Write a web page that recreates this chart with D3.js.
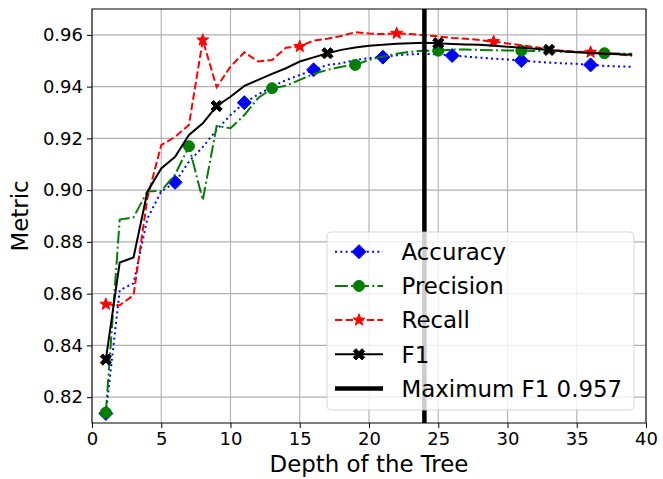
<!DOCTYPE html>
<html>
<head>
<meta charset="utf-8">
<script src="https://cdn.jsdelivr.net/npm/d3@7"></script>
<style>
  body { margin: 0; background: #fff; }
  svg { display: block; font-family: "DejaVu Sans", sans-serif; }
</style>
</head>
<body>
<svg id="svg" width="663" height="479"></svg>
<script>
// data: tree depth 1..39
const depths = d3.range(1, 40);
const accuracy = [0.8137, 0.8613, 0.8640, 0.8890, 0.8995, 0.9030, 0.9110, 0.9167, 0.9233, 0.9290,
  0.9338, 0.9370, 0.9400, 0.9425, 0.9445, 0.9465, 0.9484, 0.9490, 0.9503, 0.9510,
  0.9514, 0.9521, 0.9525, 0.9527, 0.9525, 0.9520, 0.9516, 0.9512, 0.9508, 0.9505,
  0.9501, 0.9496, 0.9493, 0.9490, 0.9488, 0.9484, 0.9480, 0.9478, 0.9477];
const precision = [0.8140, 0.8886, 0.8895, 0.8995, 0.8997, 0.9060, 0.9170, 0.8961, 0.9248, 0.9239,
  0.9290, 0.9356, 0.9394, 0.9403, 0.9426, 0.9449, 0.9465, 0.9477, 0.9484, 0.9503,
  0.9516, 0.9527, 0.9535, 0.9539, 0.9539, 0.9543, 0.9543, 0.9542, 0.9541, 0.9540,
  0.9539, 0.9538, 0.9536, 0.9535, 0.9533, 0.9531, 0.9529, 0.9528, 0.9527];
const recall = [0.8559, 0.8555, 0.8594, 0.8970, 0.9174, 0.9206, 0.9252, 0.9580, 0.9398, 0.9477,
  0.9533, 0.9497, 0.9503, 0.9550, 0.9555, 0.9578, 0.9585, 0.9596, 0.9610, 0.9605,
  0.9603, 0.9606, 0.9603, 0.9599, 0.9594, 0.9588, 0.9585, 0.9580, 0.9574, 0.9567,
  0.9560, 0.9553, 0.9543, 0.9539, 0.9535, 0.9533, 0.9530, 0.9525, 0.9519];
const f1 = [0.8345, 0.8720, 0.8740, 0.8994, 0.9084, 0.9129, 0.9213, 0.9258, 0.9325, 0.9361,
  0.9403, 0.9426, 0.9449, 0.9471, 0.9497, 0.9513, 0.9529, 0.9542, 0.9551, 0.9558,
  0.9562, 0.9566, 0.9568, 0.9570, 0.9568, 0.9565, 0.9563, 0.9562, 0.9558, 0.9554,
  0.9550, 0.9546, 0.9542, 0.9537, 0.9533, 0.9530, 0.9527, 0.9525, 0.9523];
const bestDepth = 24;
const bestF1 = 0.957;
const xTicks = [0, 5, 10, 15, 20, 25, 30, 35, 40];
const yTicks = [0.82, 0.84, 0.86, 0.88, 0.90, 0.92, 0.94, 0.96];

const series = [
  {name: 'Accuracy', values: accuracy, color: 'blue', dash: '2,3.3', marker: 'diamond', every: 5},
  {name: 'Precision', values: precision, color: 'green', dash: '12.8,3.2,2,3.2', marker: 'circle', every: 6},
  {name: 'Recall', values: recall, color: 'red', dash: '7.4,3.2', marker: 'star', every: 7},
  {name: 'F1', values: f1, color: 'black', dash: null, marker: 'xfill', every: 8}
];

const svg = d3.select('#svg');
const mLeft = 92, mRight = 646, mTop = 9, mBottom = 423;

const x = d3.scaleLinear().domain([0, 40]).range([mLeft, mRight]);
const y = d3.scaleLinear().domain([0.81, 0.97]).range([mBottom, mTop]);

// marker shapes
let markerPath = (type) => {
  if (type === 'diamond') return 'M0,-7L7,0L0,7L-7,0Z';
  if (type === 'star') {
    const pts = d3.range(10).map(k => {
      const r = k % 2 ? 2.6 : 6.3;
      const ang = -Math.PI / 2 + k * Math.PI / 5;
      return [r * Math.cos(ang), r * Math.sin(ang)];
    });
    return 'M' + pts.join('L') + 'Z';
  }
  if (type === 'xfill') {
    const a = 2.6, b = 5.6;
    return `M${-b},${-b + a}L${-b + a},${-b}L0,${-a}L${b - a},${-b}L${b},${-b + a}L${a},0` +
      `L${b},${b - a}L${b - a},${b}L0,${a}L${-b + a},${b}L${-b},${b - a}L${-a},0Z`;
  }
  return d3.symbol(d3.symbolCircle, 95)();
};

// grid
svg.append('g').selectAll('line').data(xTicks).enter().append('line')
  .attr('x1', d => x(d)).attr('x2', d => x(d)).attr('y1', mTop).attr('y2', mBottom)
  .attr('stroke', '#b0b0b0').attr('stroke-width', 1.1);
svg.append('g').selectAll('line').data(yTicks).enter().append('line')
  .attr('y1', d => y(d)).attr('y2', d => y(d)).attr('x1', mLeft).attr('x2', mRight)
  .attr('stroke', '#b0b0b0').attr('stroke-width', 1.1);

svg.append('clipPath').attr('id', 'clip').append('rect')
  .attr('x', mLeft).attr('y', mTop).attr('width', mRight - mLeft).attr('height', mBottom - mTop);

const plot = svg.append('g').attr('clip-path', 'url(#clip)');
const line = d3.line().x((d, i) => x(depths[i])).y(d => y(d));

series.forEach(s => {
  plot.append('path').datum(s.values)
    .attr('d', line).attr('fill', 'none')
    .attr('stroke', s.color).attr('stroke-width', 2)
    .attr('stroke-dasharray', s.dash);
  plot.selectAll(null).data(s.values.map((v, i) => [depths[i], v]).filter((d, i) => i % s.every === 0))
    .enter().append('path')
    .attr('d', markerPath(s.marker))
    .attr('transform', d => `translate(${x(d[0])},${y(d[1])})`)
    .attr('fill', s.color).attr('stroke', s.color).attr('stroke-width', 1);
});

plot.append('line')
  .attr('x1', x(bestDepth)).attr('x2', x(bestDepth)).attr('y1', mTop).attr('y2', mBottom)
  .attr('stroke', 'black').attr('stroke-width', 4.5);

// axes
const xAxis = svg.append('g').attr('transform', `translate(0,${mBottom})`)
  .call(d3.axisBottom(x).tickValues(xTicks).tickSize(5).tickPadding(4).tickFormat(d3.format('d')));
const yAxis = svg.append('g').attr('transform', `translate(${mLeft},0)`)
  .call(d3.axisLeft(y).tickValues(yTicks).tickSize(5).tickPadding(4).tickFormat(d3.format('.2f')));
[xAxis, yAxis].forEach(g => {
  g.select('.domain').remove();
  g.selectAll('text').attr('font-size', 18).attr('font-family', 'DejaVu Sans').attr('fill', 'black');
  g.selectAll('line').attr('stroke', 'black').attr('stroke-width', 1);
});
svg.append('rect').attr('x', mLeft).attr('y', mTop).attr('width', mRight - mLeft).attr('height', mBottom - mTop)
  .attr('fill', 'none').attr('stroke', 'black').attr('stroke-width', 1);

svg.append('text').attr('x', (mLeft + mRight) / 2).attr('y', 472)
  .attr('text-anchor', 'middle').attr('font-size', 22.9).text('Depth of the Tree');
svg.append('text').attr('transform', `translate(28,${(mTop + mBottom) / 2}) rotate(-90)`)
  .attr('text-anchor', 'middle').attr('font-size', 22.9).text('Metric');

// legend
const lg = svg.append('g');
lg.append('rect').attr('x', 327).attr('y', 232).attr('width', 307).attr('height', 178)
  .attr('rx', 4).attr('fill', 'white').attr('fill-opacity', 0.8)
  .attr('stroke', '#cccccc').attr('stroke-opacity', 0.8);
const entries = series.concat([{name: `Maximum F1 ${bestF1}`, color: 'black', dash: null, marker: null, width: 4.5}]);
entries.forEach((s, i) => {
  const yy = 251.7 + i * 34.2;
  lg.append('line').attr('x1', 335).attr('x2', 383).attr('y1', yy).attr('y2', yy)
    .attr('stroke', s.color).attr('stroke-width', s.width || 2).attr('stroke-dasharray', s.dash);
  if (s.marker) {
    lg.append('path').attr('d', markerPath(s.marker)).attr('transform', `translate(359,${yy})`)
      .attr('fill', s.color).attr('stroke', s.color).attr('stroke-width', 1);
  }
  lg.append('text').attr('x', 401.5).attr('y', yy).attr('dy', '0.36em')
    .attr('font-size', 22.9).text(s.name);
});
</script>
</body>
</html>
